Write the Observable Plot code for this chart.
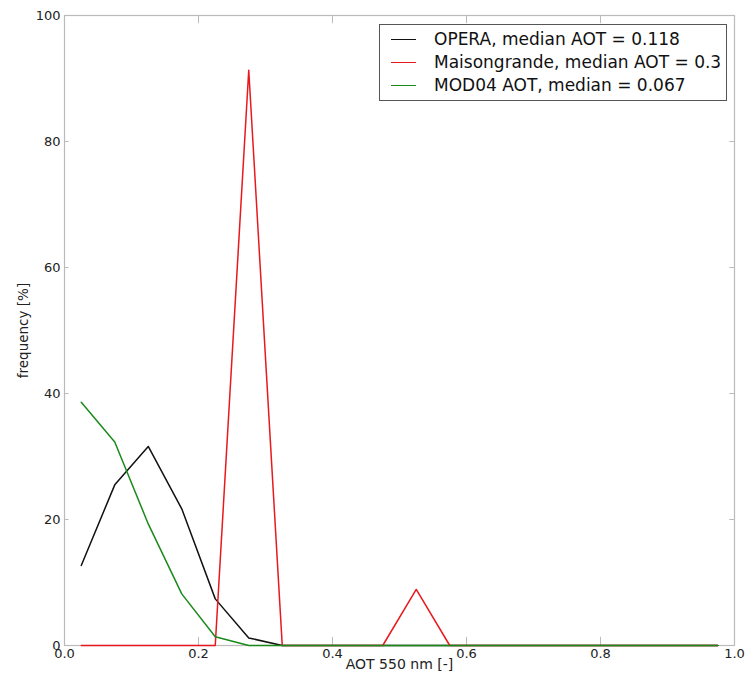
<!DOCTYPE html>
<html>
<head>
<meta charset="utf-8">
<script src="https://cdn.jsdelivr.net/npm/d3@7"></script>
<script src="https://cdn.jsdelivr.net/npm/@observablehq/plot@0.6"></script>
<style>
  html, body { margin: 0; padding: 0; background: #fff; }
  #wrap { position: relative; width: 751px; height: 676px; font-family: "DejaVu Sans", sans-serif; }
  #legend { position: absolute; left: 379px; top: 24px; width: 348px; height: 77px; border: 1px solid #555; background: #fff; box-sizing: border-box; }
  .row { position: absolute; left: 0; height: 20px; display: flex; align-items: center; font-size: 17px; color: #111; white-space: nowrap; }
  .sw { display: inline-block; width: 25px; height: 0; border-top: 1.5px solid; margin-left: 11px; margin-right: 18px; }
</style>
</head>
<body>
<div id="wrap"><div id="chart"></div><div id="legend"></div></div>
<script>
const binCenters = [0.025,0.075,0.125,0.175,0.225,0.275,0.325,0.375,0.425,0.475,0.525,0.575,0.625,0.675,0.725,0.775,0.825,0.875,0.925,0.975];
const operaFreq  = [12.7,25.5,31.6,21.7,7.4,1.2,0,0,0,0,0,0,0,0,0,0,0,0,0,0];
const maisonFreq = [0,0,0,0,0,91.3,0,0,0,0,8.9,0,0,0,0,0,0,0,0,0];
const modFreq    = [38.6,32.3,19.3,8.2,1.4,0,0,0,0,0,0,0,0,0,0,0,0,0,0,0];
const seriesNames = ["OPERA, median AOT = 0.118", "Maisongrande, median AOT = 0.3", "MOD04 AOT, median = 0.067"];
const seriesColors = ["#111111", "#e8191c", "#1a8a1a"];
const xTicks = [0, 0.2, 0.4, 0.6, 0.8, 1.0];
const yTicks = [0, 20, 40, 60, 80, 100];

const seriesValues = [operaFreq, maisonFreq, modFreq];
const rows = [];
seriesValues.forEach((vals, s) => vals.forEach((v, i) => rows.push({x: binCenters[i], y: v, s})));

const chart = Plot.plot({
  width: 751, height: 676,
  marginLeft: 64, marginRight: 17, marginTop: 15, marginBottom: 31,
  style: {fontFamily: "DejaVu Sans, sans-serif", fontSize: "13px", color: "#222", background: "#fff"},
  x: {domain: [0, 1], ticks: xTicks, tickFormat: d3.format(".1f")},
  y: {domain: [0, 100], ticks: yTicks},
  marks: [
    Plot.frame({stroke: "#bbb", strokeWidth: 1.2}),
    Plot.axisX({ticks: xTicks, tickFormat: d3.format(".1f"), tickSize: 0, tickPadding: 3, fontSize: 13, label: null}),
    Plot.axisY({ticks: yTicks, tickSize: 0, tickPadding: 4, fontSize: 13, label: null}),
    Plot.ruleX(xTicks, {x: d => d, y1: 0, y2: 1.3, stroke: "#bbb"}),
    Plot.ruleX(xTicks, {x: d => d, y1: 98.7, y2: 100, stroke: "#bbb"}),
    Plot.ruleY(yTicks, {y: d => d, x1: 0, x2: 0.007, stroke: "#bbb"}),
    Plot.ruleY(yTicks, {y: d => d, x1: 0.993, x2: 1, stroke: "#bbb"}),
    Plot.line(rows.filter(r => r.s === 0), {x: "x", y: "y", stroke: seriesColors[0], strokeWidth: 1.5}),
    Plot.line(rows.filter(r => r.s === 1), {x: "x", y: "y", stroke: seriesColors[1], strokeWidth: 1.5}),
    Plot.line(rows.filter(r => r.s === 2), {x: "x", y: "y", stroke: seriesColors[2], strokeWidth: 1.5}),
    Plot.text(["AOT 550 nm [-]"], {frameAnchor: "bottom", dy: 23, fontSize: 14, fill: "#222"}),
    Plot.text(["frequency [%]"], {frameAnchor: "left", textAnchor: "middle", dx: -41, rotate: -90, fontSize: 13.5, fill: "#222"})
  ]
});
document.getElementById("chart").appendChild(chart);

const legend = document.getElementById("legend");
seriesNames.forEach((name, i) => {
  const r = document.createElement("div");
  r.className = "row";
  r.style.top = (4 + i * 23) + "px";
  const sw = document.createElement("span");
  sw.className = "sw";
  sw.style.borderColor = seriesColors[i];
  r.appendChild(sw);
  r.appendChild(document.createTextNode(name));
  legend.appendChild(r);
});
</script>
</body>
</html>
